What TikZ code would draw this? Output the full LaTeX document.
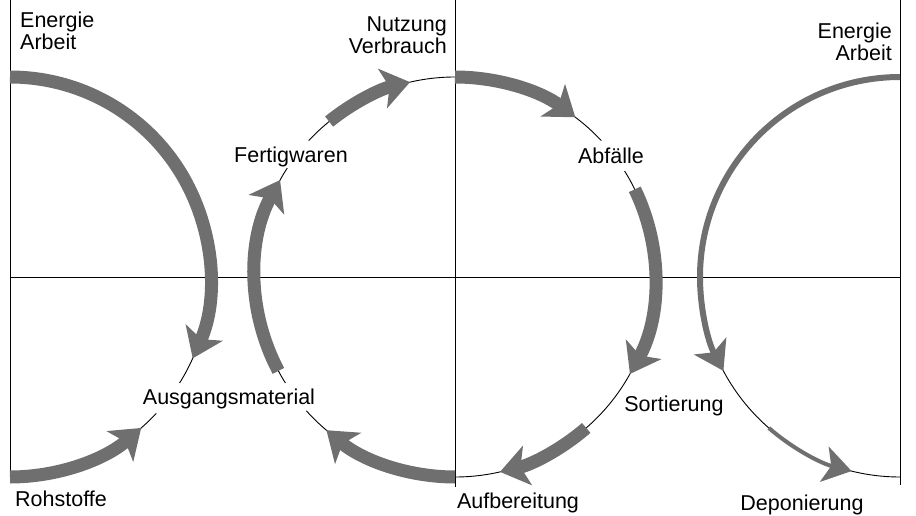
\documentclass[tikz,border=0pt]{standalone}
\usepackage{fontspec}
\setmainfont{Liberation Sans}
\usetikzlibrary{arrows.meta,positioning}
\definecolor{band}{HTML}{6F6F6F}

\begin{document}
\begin{tikzpicture}[x=1pt,y=1pt,
  lbl/.style={font=\fontsize{21.5}{22}\selectfont, inner sep=0pt},
  rim/.style={line width=0.9pt, draw=black},
  flow/.style={line width=13pt, draw=band, -{Stealth[length=28pt,width=40pt,inset=7pt,fill=band]}},
  slim/.style={line width=6pt, draw=band, -{Stealth[length=28pt,width=36pt,inset=7pt,fill=band]}}]
  \useasboundingbox (0,0) rectangle (916,515);

  % centres of the three cycles
  \coordinate (L) at (10,238);
  \coordinate (M) at (455,238);
  \coordinate (R) at (900,238);

  % frame
  \draw[rim] (10,515) -- (10,38);
  \draw[rim] (455,515) -- (455,28);
  \draw[rim] (900,515) -- (900,30);
  \draw[rim] (L) -- (R);

  % thin circle lines
  \draw[rim] ([shift={(90:200pt)}]L) arc[start angle=90, end angle=-32, radius=200pt];
  \draw[rim] ([shift={(-43:200pt)}]L) arc[start angle=-43, end angle=-90, radius=200pt];
  \draw[rim] ([shift={(43:200pt)}]M) arc[start angle=43, end angle=137, radius=200pt];
  \draw[rim] ([shift={(147:200pt)}]M) arc[start angle=147, end angle=212, radius=200pt];
  \draw[rim] ([shift={(222:200pt)}]M) arc[start angle=222, end angle=392, radius=200pt];
  \draw[rim] ([shift={(90:200pt)}]R) arc[start angle=90, end angle=270, radius=200pt];

  % Gewinnung
  \draw[flow] ([shift={(90:200pt)}]L) arc[start angle=90, end angle=-24, radius=200pt];
  \draw[flow] ([shift={(-90:200pt)}]L) arc[start angle=-90, end angle=-49, radius=200pt];

  % Produktion und Nutzung
  \draw[flow] ([shift={(270:200pt)}]M) arc[start angle=270, end angle=230, radius=200pt];
  \draw[flow] ([shift={(208:200pt)}]M) arc[start angle=208, end angle=151, radius=200pt];
  \draw[flow] ([shift={(129:200pt)}]M) arc[start angle=129, end angle=103, radius=200pt];

  % Entsorgung
  \draw[flow] ([shift={(90:200pt)}]M) arc[start angle=90, end angle=53, radius=200pt];
  \draw[flow] ([shift={(26:200pt)}]M) arc[start angle=26, end angle=-29, radius=200pt];
  \draw[flow] ([shift={(-49:200pt)}]M) arc[start angle=-49, end angle=-77, radius=200pt];
  \draw[slim] ([shift={(90:200pt)}]R) arc[start angle=90, end angle=208, radius=200pt];
  \draw[slim, line width=4pt] ([shift={(229:200pt)}]R) arc[start angle=229, end angle=256, radius=200pt];

  % labels
  \node[lbl, anchor=north west, align=left] (energyL) at (20,503) {Energie\\Arbeit};
  \node[lbl, anchor=north east, align=right] (use) at (447,498) {Nutzung\\Verbrauch};
  \node[lbl, anchor=north east, align=right] (energyR) at (892,492) {Energie\\Arbeit};
  \node[lbl] (goods) at (291,358) {Fertigwaren};
  \node[lbl] (waste) at (611,359) {Abfälle};
  \node[lbl] (base) at (229,116) {Ausgangsmaterial};
  \node[lbl] (raw) at (61,16) {Rohstoffe};
  \node[lbl] (sort) at (674,109) {Sortierung};
  \node[lbl] (prep) at (518,12) {Aufbereitung};
  \node[lbl] (dump) at (802,10) {Deponierung};
\end{tikzpicture}
\end{document}
